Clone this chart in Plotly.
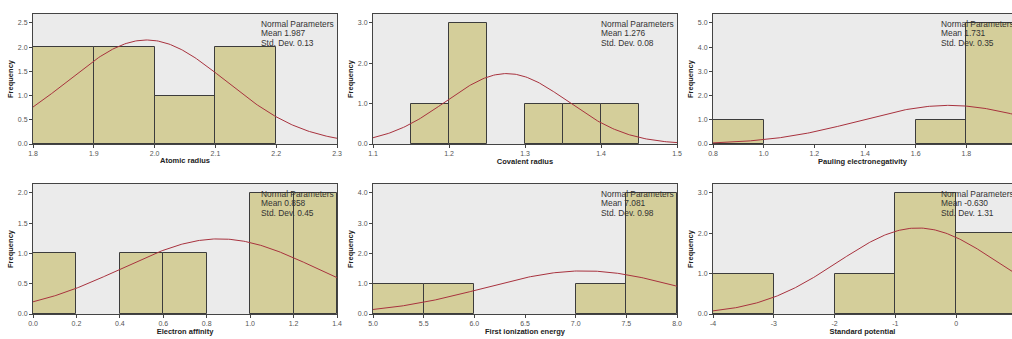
import numpy as np
import plotly.graph_objects as go

# ---- data ----
titles = ["Atomic radius", "Covalent radius", "Pauling electronegativity",
          "Electron affinity", "First ionization energy", "Standard potential"]

bin_width = [0.1, 0.05, 0.2, 0.2, 0.5, 1.0]

atomic_left = [1.8, 1.9, 2.0, 2.1]
atomic_count = [2, 2, 1, 2]
covalent_left = [1.15, 1.2, 1.3, 1.35, 1.4]
covalent_count = [1, 3, 1, 1, 1]
pauling_left = [0.8, 1.6, 1.8]
pauling_count = [1, 1, 5]
affinity_left = [0.0, 0.4, 0.6, 1.0, 1.2]
affinity_count = [1, 1, 1, 2, 2]
ionization_left = [5.0, 5.5, 7.0, 7.5]
ionization_count = [1, 1, 1, 4]
potential_left = [-4, -2, -1, 0]
potential_count = [1, 1, 3, 2]

means = [1.987, 1.276, 1.731, 0.858, 7.081, -0.630]
sds = [0.13, 0.08, 0.35, 0.45, 0.98, 1.31]
mean_labels = ["1.987", "1.276", "1.731", "0.858", "7.081", "-0.630"]
sd_labels = ["0.13", "0.08", "0.35", "0.45", "0.98", "1.31"]
n_obs = 7

x_ranges = [[1.8, 2.3], [1.1, 1.5], [0.8, 1.98], [0.0, 1.4], [5.0, 8.0], [-4, 0.92]]
x_dtick = [0.1, 0.1, 0.2, 0.2, 0.5, 1]
x_fmt = [".1f", ".1f", ".1f", ".1f", ".1f", "d"]
potential_tickvals = [-4, -3, -2, -1, 0]
potential_ticktext = ["-4", "-3", "-2", "-1", "0"]
y_top = [2.5, 3.0, 5.0, 2.0, 4.0, 3.0]
y_dtick = [0.5, 1.0, 1.0, 0.5, 1.0, 1.0]

lefts = [atomic_left, covalent_left, pauling_left, affinity_left, ionization_left, potential_left]
counts = [atomic_count, covalent_count, pauling_count, affinity_count, ionization_count, potential_count]

# ---- style ----
W, H = 1012, 339
col_px = [(33, 337), (373, 677), (713, 1012)]
row_px = [(14, 144), (184, 314)]
BAR_FILL = "#D4CE9A"
BAR_LINE = "#3c3c3c"
CURVE = "#A8323E"
BG = "#EBEBEB"
FONT = "Liberation Sans, Arial, sans-serif"

fig = go.Figure()
layout = dict(width=W, height=H, margin=dict(l=0, r=0, t=0, b=0, autoexpand=False),
              paper_bgcolor="white", showlegend=False, bargap=0,
              annotations=[], shapes=[])

for i in range(6):
    r, c = divmod(i, 3)
    n = i + 1
    xa = "x" if n == 1 else f"x{n}"
    ya = "y" if n == 1 else f"y{n}"
    xk = "xaxis" if n == 1 else f"xaxis{n}"
    yk = "yaxis" if n == 1 else f"yaxis{n}"
    bw = bin_width[i]
    centers = [l + bw / 2 for l in lefts[i]]
    fig.add_trace(go.Bar(x=centers, y=counts[i], width=[bw] * len(centers),
                         marker=dict(color=BAR_FILL, line=dict(color=BAR_LINE, width=1)),
                         xaxis=xa, yaxis=ya, hoverinfo="skip"))
    xs = np.linspace(x_ranges[i][0], x_ranges[i][1], 200)
    ys = n_obs * bw * np.exp(-0.5 * ((xs - means[i]) / sds[i]) ** 2) / (sds[i] * np.sqrt(2 * np.pi))
    fig.add_trace(go.Scatter(x=xs, y=ys, mode="lines", line=dict(color=CURVE, width=1),
                             xaxis=xa, yaxis=ya, hoverinfo="skip"))
    x0, x1 = col_px[c]
    y0, y1 = row_px[r]
    dom_x = [x0 / W, x1 / W]
    dom_y = [1 - y1 / H, 1 - y0 / H]
    mirror_y = c != 2
    xdict = dict(domain=dom_x, range=x_ranges[i], anchor=ya, dtick=x_dtick[i],
                 tick0=x_ranges[i][0], tickformat=x_fmt[i], automargin=False,
                 showgrid=False, zeroline=False, showline=True, linecolor="#444",
                 linewidth=1, mirror=True, ticks="outside", ticklen=3, tickcolor="#444",
                 tickfont=dict(family=FONT, size=7, color="#555"),
                 title=dict(text=f"<b>{titles[i]}</b>", standoff=1,
                            font=dict(family=FONT, size=7.5, color="#222")))
    if i == 5:
        xdict.update(tickmode="array", tickvals=potential_tickvals, ticktext=potential_ticktext)
    layout[xk] = xdict
    layout[yk] = dict(domain=dom_y, range=[0, y_top[i] * 1.074], anchor=xa, dtick=y_dtick[i],
                      tickformat=".1f", automargin=False, showgrid=False, zeroline=False,
                      showline=True, linecolor="#444", linewidth=1, mirror=mirror_y,
                      ticks="outside", ticklen=3, tickcolor="#444",
                      tickfont=dict(family=FONT, size=7, color="#555"),
                      title=dict(text="<b>Frequency</b>", standoff=3,
                                 font=dict(family=FONT, size=7.5, color="#222")))
    layout["shapes"].append(dict(
        type="rect", xref="paper", yref="paper", x0=dom_x[0], x1=dom_x[1],
        y0=dom_y[0], y1=dom_y[1], fillcolor=BG, line=dict(width=0), layer="below"))
    lines = ["Normal Parameters", f"Mean {mean_labels[i]}", f"Std. Dev. {sd_labels[i]}"]
    for k, t in enumerate(lines):
        layout["annotations"].append(dict(
            text=t, xref="paper", yref="paper", x=(x0 + 226) / W,
            y=1 - (y0 + 10 + k * 9.3) / H, xanchor="left", yanchor="middle",
            showarrow=False, font=dict(family=FONT, size=8.4, color="#333")))

fig.update_layout(**layout)
fig.write_html("out.html", config={"displayModeBar": False},
               post_script="document.body.style.margin='0px';document.body.style.overflow='hidden';")
